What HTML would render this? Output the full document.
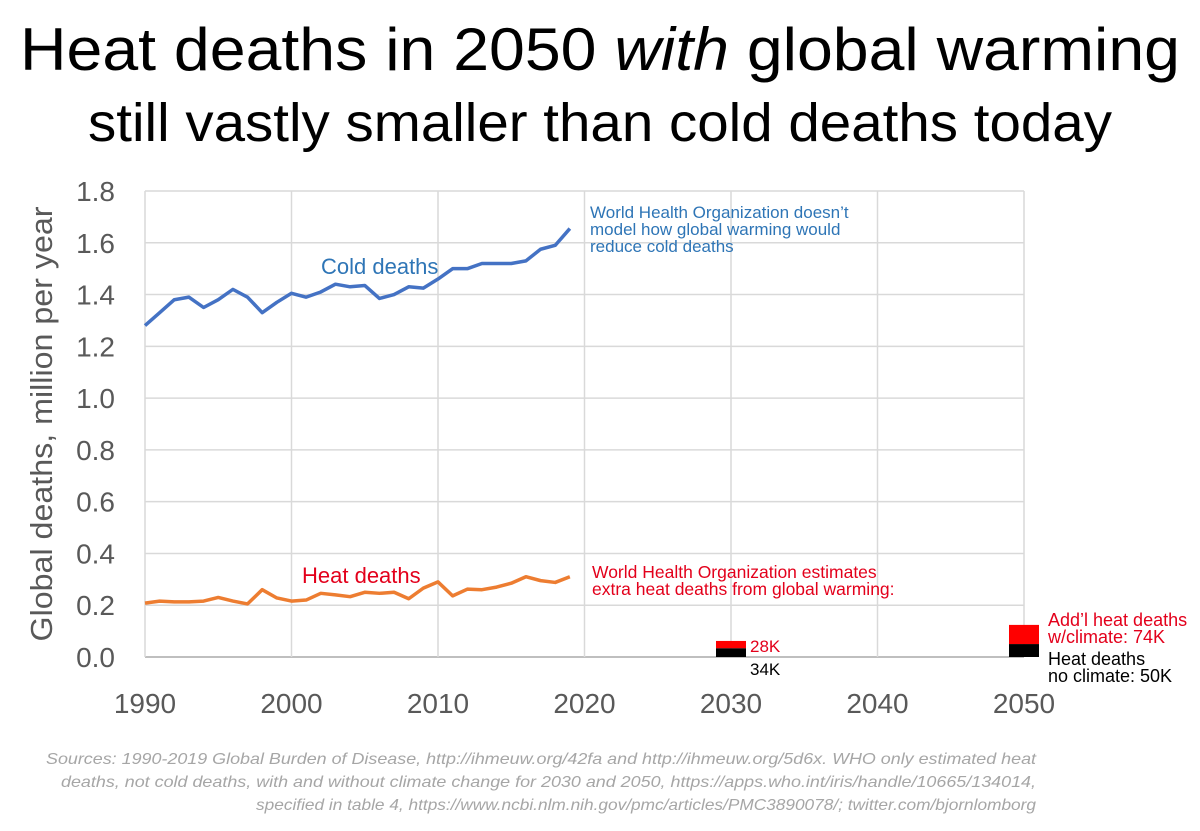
<!DOCTYPE html>
<html><head><meta charset="utf-8"><style>
body{margin:0;background:#fff;width:1200px;height:826px;overflow:hidden;font-family:"Liberation Sans",sans-serif}
</style></head><body>
<svg width="1200" height="826" font-family="Liberation Sans, sans-serif">
<text x="600" y="70" text-anchor="middle" font-size="60" textLength="1160" lengthAdjust="spacingAndGlyphs">Heat deaths in 2050 <tspan font-style="italic">with</tspan> global warming</text>
<text x="600" y="141" text-anchor="middle" font-size="54" textLength="1024" lengthAdjust="spacingAndGlyphs">still vastly smaller than cold deaths today</text>
<g id="grid"></g><g id="marks"></g>
<text transform="translate(52,424) rotate(-90)" text-anchor="middle" font-size="31" fill="#595959" textLength="435" lengthAdjust="spacingAndGlyphs">Global deaths, million per year</text>
<text x="321" y="274" font-size="22" fill="#2e75b6">Cold deaths</text>
<text x="302" y="583" font-size="22" fill="#e3001b">Heat deaths</text>
<g font-size="17" fill="#2e75b6"><text x="590" y="218">World Health Organization doesn’t</text><text x="590" y="235">model how global warming would</text><text x="590" y="252">reduce cold deaths</text></g>
<g font-size="17.5" fill="#e3001b"><text x="592" y="578">World Health Organization estimates</text><text x="592" y="595">extra heat deaths from global warming:</text></g>
<text x="750" y="652" font-size="17" fill="#e3001b">28K</text>
<text x="750" y="675" font-size="17" fill="#000">34K</text>
<g font-size="18"><text x="1048" y="626" fill="#e3001b">Add’l heat deaths</text><text x="1048" y="643" fill="#e3001b">w/climate: 74K</text><text x="1048" y="665" fill="#000">Heat deaths</text><text x="1048" y="682" fill="#000">no climate: 50K</text></g>
<g font-size="16" font-style="italic" fill="#a6a6a6" text-anchor="end">
<text x="1036" y="764" textLength="990" lengthAdjust="spacingAndGlyphs">Sources: 1990-2019 Global Burden of Disease, http://ihmeuw.org/42fa and http://ihmeuw.org/5d6x. WHO only estimated heat</text>
<text x="1036" y="787" textLength="975" lengthAdjust="spacingAndGlyphs">deaths, not cold deaths, with and without climate change for 2030 and 2050, https://apps.who.int/iris/handle/10665/134014,</text>
<text x="1036" y="810" textLength="780" lengthAdjust="spacingAndGlyphs">specified in table 4, https://www.ncbi.nlm.nih.gov/pmc/articles/PMC3890078/; twitter.com/bjornlomborg</text></g>
</svg>
<script>
const years=[1990,1991,1992,1993,1994,1995,1996,1997,1998,1999,2000,2001,2002,2003,2004,2005,2006,2007,2008,2009,2010,2011,2012,2013,2014,2015,2016,2017,2018,2019];
const cold=[1.28,1.33,1.38,1.39,1.35,1.38,1.42,1.39,1.33,1.37,1.405,1.39,1.41,1.44,1.43,1.435,1.385,1.40,1.43,1.425,1.46,1.50,1.50,1.52,1.52,1.52,1.53,1.575,1.59,1.655];
const heat=[0.208,0.216,0.213,0.213,0.216,0.23,0.216,0.205,0.26,0.228,0.216,0.22,0.246,0.24,0.233,0.25,0.246,0.25,0.225,0.266,0.29,0.236,0.262,0.26,0.27,0.285,0.31,0.295,0.288,0.31];
const barYears=[2030,2050];
const barBase=[0.034,0.050];
const barExtra=[0.028,0.074];
const xTicks=[1990,2000,2010,2020,2030,2040,2050];
const yTicks=[0,0.2,0.4,0.6,0.8,1.0,1.2,1.4,1.6,1.8];
const X=v=>145+(v-1990)*(1024-145)/60;
const Y=v=>657-v*(657-191)/1.8;
const NS="http://www.w3.org/2000/svg";
const grid=document.getElementById('grid'),marks=document.getElementById('marks');
function mk(p,tag,a){const e=document.createElementNS(NS,tag);for(const k in a)e.setAttribute(k,a[k]);p.appendChild(e);return e;}
yTicks.forEach(t=>{
 const l=mk(grid,'line',{x1:145,x2:1024,y1:Y(t),y2:Y(t),stroke:t===0?'#bfbfbf':'#d9d9d9','stroke-width':t===0?2:1.5});
 
 
 const tx=mk(grid,'text',{x:115,y:Y(t)+10,'text-anchor':'end','font-size':28,fill:'#595959'});tx.textContent=t.toFixed(1);
 
 
});
xTicks.forEach(t=>{
 const l=mk(grid,'line',{x1:X(t),x2:X(t),y1:191,y2:657,stroke:'#d9d9d9','stroke-width':1.5});
 
 
 const tx=mk(grid,'text',{x:X(t),y:713,'text-anchor':'middle','font-size':28,fill:'#595959'});tx.textContent=t;
 
 
});
const c=mk(marks,'polyline',{points:years.map((y,i)=>X(y)+','+Y(cold[i])).join(' '),fill:'none',stroke:'#4472c4','stroke-width':3.5,'stroke-linejoin':'round'});


const h=mk(marks,'polyline',{points:years.map((y,i)=>X(y)+','+Y(heat[i])).join(' '),fill:'none',stroke:'#ed7d31','stroke-width':3.5,'stroke-linejoin':'round'});


barYears.forEach((y,i)=>{
 const b=mk(marks,'rect',{x:X(y)-15,width:30,y:Y(barBase[i]),height:Y(0)-Y(barBase[i]),fill:'#000'});
 
 
 const r=mk(marks,'rect',{x:X(y)-15,width:30,y:Y(barBase[i]+barExtra[i]),height:Y(barBase[i])-Y(barBase[i]+barExtra[i]),fill:'#ff0000'});
 
 
});
</script>
</body></html>
